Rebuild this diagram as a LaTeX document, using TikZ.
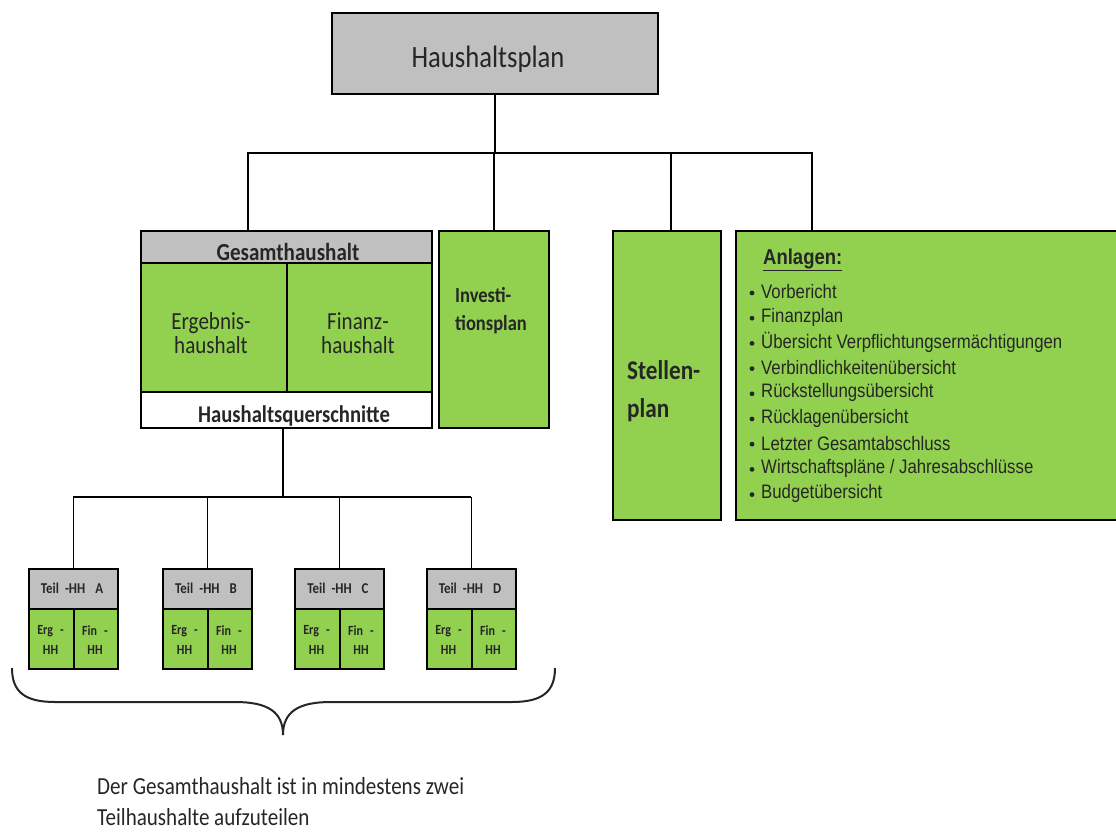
\documentclass[tikz,border=0pt]{standalone}
\usepackage{fontspec}
\setmainfont[FakeStretch=0.86]{Carlito}
\newfontfamily\arialc[FakeStretch=0.86]{Liberation Sans}
\definecolor{hhgreen}{HTML}{92D050}
\definecolor{hhgray}{HTML}{C0C0C0}
\tikzset{
  box/.style={draw=black, line width=1.8pt, inner sep=0pt, anchor=north west},
  grn/.style={box, fill=hhgreen},
  gry/.style={box, fill=hhgray},
  wht/.style={box, fill=white},
  conn/.style={draw=black, line width=1.7pt},
  txt/.style={inner sep=0pt, text=black!85},
}
\begin{document}
\begin{tikzpicture}[x=1pt,y=-1pt]
\useasboundingbox (0,0) rectangle (1116,832);
% top
\node[gry, minimum width=326pt, minimum height=81pt] (top) at (331,12) {};
\node[txt, font=\fontsize{31}{36}\selectfont] (toptxt) at (488,59) {Haushaltsplan};
% Gesamthaushalt group
\node[gry, minimum width=291pt, minimum height=32pt] (ges) at (140,230) {};
\node[grn, minimum width=146pt, minimum height=129pt] (erg) at (140,262) {};
\node[grn, minimum width=145pt, minimum height=129pt] (fin) at (286,262) {};
\node[wht, minimum width=291pt, minimum height=36pt] (hq) at (140,391) {};
\node[txt, font=\bfseries\fontsize{24.5}{28}\selectfont, anchor=base] (gestxt) at (288,260) {Gesamthaushalt};
\node[txt, font=\fontsize{24.5}{24}\selectfont, align=center] (ergtxt) at (211,333) {Ergebnis-\\haushalt};
\node[txt, font=\fontsize{24.5}{24}\selectfont, align=center] (fintxt) at (358,333) {Finanz-\\haushalt};
\node[txt, font=\bfseries\fontsize{24}{28}\selectfont, anchor=base] (hqtxt) at (294,422) {Haushaltsquerschnitte};
% Investitionsplan
\node[grn, minimum width=110pt, minimum height=197pt] (inv) at (438,230) {};
\node[txt, font=\bfseries\fontsize{21.5}{28}\selectfont, align=left, anchor=west] (invtxt) at (455,311) {Investi-\\tionsplan};
% Stellenplan
\node[grn, minimum width=108pt, minimum height=289pt] (stel) at (612,230) {};
\node[txt, font=\bfseries\fontsize{27}{38}\selectfont, align=left, anchor=west] (steltxt) at (627,391) {Stellen-\\plan};
% Anlagen
\node[grn, minimum width=390pt, minimum height=289pt] (anl) at (735,230) {};
\node[txt, font=\arialc\bfseries\fontsize{21.5}{24}\selectfont, anchor=base west] (anltxt) at (763,264) {\underline{Anlagen:}};
\foreach \t [count=\i from 0] in {Vorbericht, Finanzplan, Übersicht Verpflichtungsermächtigungen, Verbindlichkeitenübersicht, Rückstellungsübersicht, Rücklagenübersicht, Letzter Gesamtabschluss, Wirtschaftspläne / Jahresabschlüsse, Budgetübersicht}{
  \fill[black!85] (752,{293+25.2*\i}) circle (2.4pt);
  \node[txt, font=\arialc\fontsize{19.5}{20}\selectfont, anchor=west] (anl\i) at (761,{292+25.2*\i}) {\t};
}
% Teilhaushalte
\foreach \L/\x in {A/28, B/162, C/294, D/426}{
  \node[gry, minimum width=89pt, minimum height=40pt] (t\L) at (\x,568) {};
  \node[grn, minimum width=45pt, minimum height=60pt] (e\L) at (\x,608) {};
  \node[grn, minimum width=44pt, minimum height=60pt] (f\L) at (\x+45,608) {};
  \node[txt, font=\bfseries\fontsize{15}{18}\selectfont] (tt\L) at (\x+44,588) {Teil\hspace{6pt}-HH\hspace{10pt}\L};
  \node[txt, font=\bfseries\fontsize{14}{19.5}\selectfont, align=center] (et\L) at (\x+22.5,640) {Erg\hspace{7pt}-\\HH};
  \node[txt, font=\bfseries\fontsize{14}{19.5}\selectfont, align=center] (ft\L) at (\x+67,640) {Fin\hspace{7pt}-\\HH};
}
% connectors
\coordinate (gesin) at (248,230);
\coordinate (stelin) at (671,230);
\coordinate (anlin) at (812,230);
\coordinate (busa) at (248,153);
\coordinate (busb) at (812,153);
\draw[conn] (top.south) -- (top.south |- busa);
\draw[conn] (gesin) -- (busa) -- (busb) -- (anlin);
\draw[conn] (inv.north) -- (inv.north |- busa);
\draw[conn] (stelin) -- (stelin |- busa);
\coordinate (hqout) at (283,427);
\coordinate (bus2) at (283,497);
\draw[conn] (hqout) -- (bus2);
\draw[conn] (tA.north |- bus2) -- (tD.north |- bus2);
\foreach \L in {A,B,C,D}{
  \draw[conn] (t\L.north) -- (t\L.north |- bus2);
}
% brace
\coordinate (brl) at (12,668);
\coordinate (brr) at (555,668);
\coordinate (brt) at (283,735);
\draw[line width=2pt, black!85] (brl) .. controls (12,692) and (25,702) .. (55,702) -- (235,702)
  .. controls (268,702) and (283,712) .. (brt)
  .. controls (283,712) and (298,702) .. (331,702) -- (512,702)
  .. controls (542,702) and (555,692) .. (brr);
% bottom text
\node[txt, font=\fontsize{24.5}{31}\selectfont, align=left, anchor=west] (note) at (97,802) {Der Gesamthaushalt ist in mindestens zwei\\Teilhaushalte aufzuteilen};
\end{tikzpicture}
\end{document}
